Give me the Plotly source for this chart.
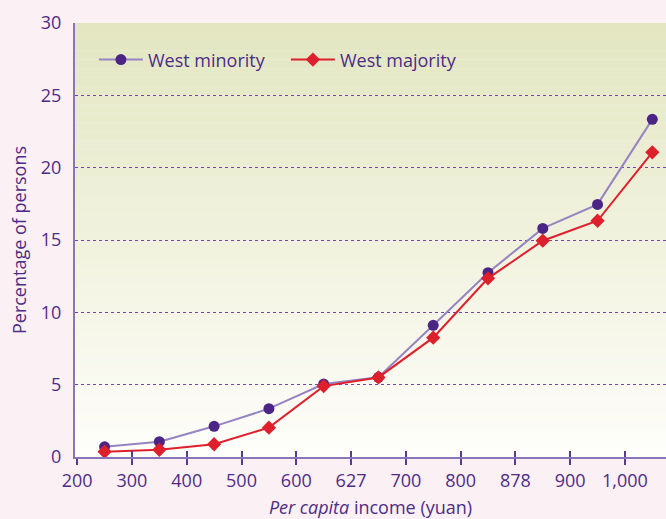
import plotly.graph_objects as go

tick_labels = ["200", "300", "400", "500", "600", "627", "700", "800", "878", "900", "1,000"]
west_minority = [0.7, 1.06, 2.12, 3.34, 5.04, 5.51, 9.1, 12.74, 15.8, 17.46, 23.34]
west_majority = [0.37, 0.5, 0.88, 2.03, 4.9, 5.5, 8.25, 12.35, 14.95, 16.33, 21.06]

x_pos = [i + 0.5 for i in range(len(west_minority))]
tick_pos = list(range(len(tick_labels)))

PURPLE = "#4B2585"
TXT = "#4E2C86"
LINE_P = "#9683C2"
RED = "#DE1F2C"
FONT = "Open Sans"

fig = go.Figure()
fig.add_trace(go.Scatter(
    x=x_pos, y=west_minority, name="West minority", mode="lines+markers",
    line=dict(color=LINE_P, width=2),
    marker=dict(symbol="circle", size=11, color=PURPLE),
))
fig.add_trace(go.Scatter(
    x=x_pos, y=west_majority, name="West majority", mode="lines+markers",
    line=dict(color=RED, width=2),
    marker=dict(symbol="diamond", size=11, color=RED),
))
# invisible trace to activate the tick overlay axis
fig.add_trace(go.Scatter(x=[0], y=[0], xaxis="x2", mode="markers",
                         marker=dict(opacity=0), showlegend=False, hoverinfo="skip"))

# gradient background for the plot area
n = 48
top = (227, 230, 193)
bot = (254, 254, 250)
shapes = []
for i in range(n):
    t = i / (n - 1)
    c = tuple(round(top[k] + (bot[k] - top[k]) * t) for k in range(3))
    shapes.append(dict(
        type="rect", xref="x domain", yref="y domain",
        x0=0, x1=1, y0=1 - (i + 1) / n, y1=1 - i / n,
        fillcolor="rgb(%d,%d,%d)" % c, line=dict(width=0), layer="below",
    ))

x_range = [-0.04, 10.75]
fig.update_layout(
    width=666, height=519,
    margin=dict(l=75, r=0, t=23, b=62),
    paper_bgcolor="#FBF0F3",
    plot_bgcolor="rgba(0,0,0,0)",
    font=dict(family=FONT, color=TXT, size=18),
    shapes=shapes,
    showlegend=True,
    legend=dict(
        orientation="h", x=0.032, y=0.915, xanchor="left", yanchor="middle",
        bgcolor="rgba(0,0,0,0)", font=dict(size=18, color=TXT),
        entrywidth=133, itemwidth=44,
    ),
    xaxis=dict(
        range=x_range, tickmode="array", tickvals=tick_pos, ticktext=tick_labels,
        ticks="outside", ticklen=6, tickcolor="#5B3A93", tickwidth=1.5,
        showline=True, linecolor="#8C74B8", linewidth=2,
        showgrid=False, zeroline=False, automargin=False,
        tickfont=dict(size=18, color=TXT),
        title=dict(text="<i>Per capita</i> income (yuan)", font=dict(size=18, color=TXT), standoff=14),
    ),
    xaxis2=dict(
        range=x_range, overlaying="x", anchor="y", side="bottom",
        tickmode="array", tickvals=tick_pos[1:], ticktext=[""] * (len(tick_pos) - 1),
        ticks="inside", ticklen=6, tickcolor="#5B3A93", tickwidth=1.5,
        showline=False, showgrid=False, zeroline=False, showticklabels=False,
        automargin=False,
    ),
    yaxis=dict(
        range=[0, 30], tickmode="array", tickvals=[0, 5, 10, 15, 20, 25, 30],
        showline=True, linecolor="#8C74B8", linewidth=2,
        showgrid=True, gridcolor="#6A4BA0", griddash="dot", gridwidth=1.2,
        zeroline=False, ticks="", ticklabelstandoff=8, automargin=False,
        tickfont=dict(size=18, color=TXT),
        title=dict(text="Percentage of persons", font=dict(size=18, color=TXT), standoff=10),
    ),
)

fig.write_html(
    "out.html",
    config={"displayModeBar": False},
    post_script="document.body.style.margin='0';document.body.style.overflow='hidden';",
)
